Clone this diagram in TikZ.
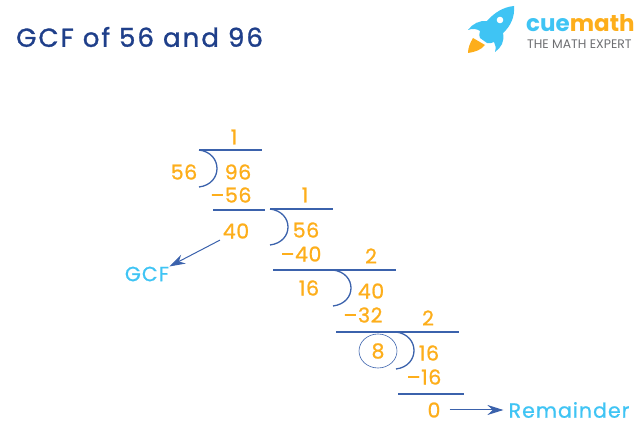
\documentclass[tikz,border=0pt]{standalone}
\usepackage{fontspec}
\setmainfont{Poppins}
\newfontfamily\numfont[FakeBold=1,LetterSpace=3]{Poppins}
\newfontfamily\lblfont[FakeBold=0.8,LetterSpace=5]{Poppins}
\newfontfamily\titlefont[FakeBold=1.2,LetterSpace=8]{Poppins}
\definecolor{cmorange}{HTML}{FDAE1B}
\definecolor{cmblue}{HTML}{3B62AC}
\definecolor{cmcyan}{HTML}{3FC4F4}
\definecolor{cmnavy}{HTML}{1F3F8A}
\definecolor{cmgrey}{HTML}{6D6E71}
\usetikzlibrary{arrows.meta,positioning}

\begin{document}
\begin{tikzpicture}[
  x=1pt, y=-1pt,
  num/.style={font=\numfont\fontsize{20.5}{20.5}\selectfont, text=cmorange, inner sep=0pt},
  lbl/.style={font=\lblfont\fontsize{20.5}{20.5}\selectfont, text=cmcyan, inner sep=0pt},
  rule/.style={cmblue, line width=1.1pt},
  brk/.style={cmblue, line width=1.3pt},
  arr/.style={-{Stealth[length=16pt,width=10pt]}, cmblue, line width=1pt}
]
  \useasboundingbox (0,0) rectangle (643,446);

  % title and logo
  \node[font=\titlefont\fontsize{26}{26}\selectfont, text=cmnavy, inner sep=0pt, anchor=west] (title) at (16,37) {GCF of 56 and 96};
  \fill[cmcyan] (514,6) .. controls (503,7) and (494,13) .. (487,21) .. controls (480,20) and (472,24) .. (468,30) .. controls (473,28) and (477,29) .. (480,31) .. controls (479,34) and (479,36) .. (480,38) -- (487,43) .. controls (489,44) and (492,43) .. (494,42) .. controls (496,45) and (496,48) .. (495,52) .. controls (501,48) and (505,41) .. (503,33) .. controls (511,26) and (515,16) .. (514,6) -- cycle;
  \fill[white] (500,20) circle (3.3);
  \fill[cmorange] (473,38) .. controls (470,43) and (468,48) .. (468,53) .. controls (475,52) and (481,50) .. (485,45) -- cycle;
  \node[font=\fontsize{23}{23}\selectfont\bfseries, inner sep=0pt, anchor=base west] (logo) at (526,32) {\textcolor{cmcyan}{cue}\textcolor{cmorange}{math}};
  \node[font=\fontsize{12.4}{12.4}\selectfont, text=cmgrey, inner sep=0pt, anchor=base west] (slogan) at (527,49) {THE MATH EXPERT};

  % first step
  \node[num] (q1) at (234,137) {1};
  \node[num] (d1) at (184,172) {56};
  \node[num] (a1) at (238,172) {96};
  \node[num] (s1) at (231,195) {–56};
  \node[num] (r1) at (236,231) {40};
  \draw[rule] (199,150) -- (262,150);
  \draw[brk] (199,150) .. controls (223,153) and (223,184) .. (199,187);
  \draw[rule] (213,210) -- (265,210);

  % second step
  \node[num] (q2) at (305,195) {1};
  \node[num] (a2) at (306,230) {56};
  \node[num] (s2) at (301,254) {–40};
  \node[num] (r2) at (309,288) {16};
  \draw[rule] (270,209) -- (333,209);
  \draw[brk] (270,209) .. controls (294,212) and (294,242) .. (270,245);
  \draw[rule] (273,270) -- (396,270);

  % third step
  \node[num] (q3) at (371,256) {2};
  \node[num] (a3) at (371,291) {40};
  \node[num] (s3) at (363,315) {–32};
  \node[num] (r3) at (378,351) {8};
  \draw[brk] (333,270) .. controls (357,273) and (357,303) .. (333,306);
  \draw[rule] (336,332) -- (459,332);
  \draw[cmblue, line width=0.6pt] (r3) ellipse (19 and 17);

  % last step
  \node[num] (q4) at (428,318) {2};
  \node[num] (a4) at (429,353) {16};
  \node[num] (s4) at (424,377) {–16};
  \node[num] (r4) at (434,410) {0};
  \draw[brk] (396,332) .. controls (420,335) and (420,366) .. (396,369);
  \draw[rule] (398,394) -- (464,394);

  \node[lbl] (gcf) at (147,274) {GCF};
  \node[lbl] (rem) at (569,410) {Remainder};
  \draw[arr, shorten <=3pt] (r1.south west) -- (gcf.north east);
  \draw[arr, shorten <=9pt, shorten >=5pt] (r4) -- (rem);
\end{tikzpicture}
\end{document}
